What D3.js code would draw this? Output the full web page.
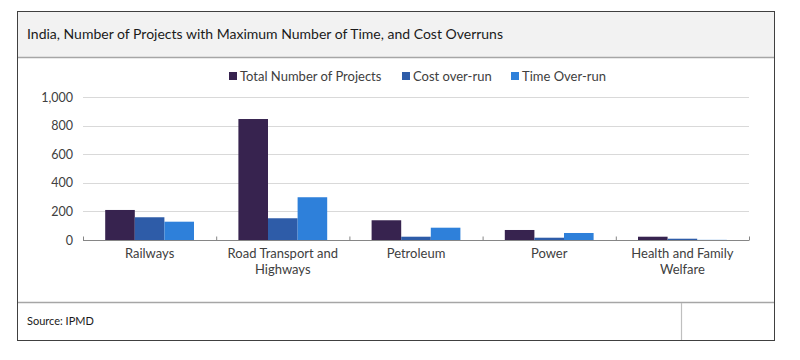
<!DOCTYPE html>
<html><head><meta charset="utf-8">
<script src="https://cdn.jsdelivr.net/npm/d3@7"></script>
<style>
html,body{margin:0;padding:0;background:#fff;}
text{font-family:Lato,"Open Sans",sans-serif;}
</style></head>
<body><svg id="c" width="800" height="360"></svg>
<script>
const title = "India, Number of Projects with Maximum Number of Time, and Cost Overruns";
const source = "Source: IPMD";
const categories = [["Railways"],["Road Transport and","Highways"],["Petroleum"],["Power"],["Health and Family","Welfare"]];
const seriesNames = ["Total Number of Projects","Cost over-run","Time Over-run"];
const totalProjects = [210, 846, 138, 70, 23];
const costOverrun = [159, 152, 23, 16, 9];
const timeOverrun = [128, 299, 86, 49, 1];
const yTicks = [0, 200, 400, 600, 800, 1000];
const colors = ["#37234f", "#2e5ca8", "#2e80da"];

const series = [totalProjects, costOverrun, timeOverrun];
const svg = d3.select("#c");

// frame
svg.append("rect").attr("x",17.5).attr("y",11.5).attr("width",757).attr("height",46).attr("fill","#f2f2f2");
svg.append("line").attr("x1",17.5).attr("x2",774.5).attr("y1",57.5).attr("y2",57.5).attr("stroke","#a6a6a6").attr("stroke-width",1.5);
svg.append("line").attr("x1",17.5).attr("x2",774.5).attr("y1",302.5).attr("y2",302.5).attr("stroke","#a6a6a6").attr("stroke-width",1.5);
svg.append("line").attr("x1",681.5).attr("x2",681.5).attr("y1",303).attr("y2",340).attr("stroke","#bfbfbf").attr("stroke-width",1.2);
svg.append("rect").attr("x",17.5).attr("y",11.5).attr("width",757).attr("height",329).attr("fill","none").attr("stroke","#404040").attr("stroke-width",1);

svg.append("text").attr("x",27).attr("y",39).attr("font-size",14).attr("fill","#1a1a1a").text(title);
svg.append("text").attr("x",27).attr("y",325).attr("font-size",11).attr("fill","#1a1a1a").text(source);

const x0 = d3.scaleBand().domain(d3.range(categories.length)).range([83, 749]).paddingInner(0).paddingOuter(0);
const x1 = d3.scaleBand().domain(d3.range(series.length)).range([0, x0.bandwidth()]).paddingOuter(0.75).paddingInner(0);
const y = d3.scaleLinear().domain([0, 1000]).range([240, 97]);

const g = svg.append("g");
// gridlines
g.selectAll("line.grid").data(yTicks.filter(d=>d>0)).enter().append("line")
  .attr("x1",83).attr("x2",749).attr("y1",d=>Math.round(y(d))+0.5).attr("y2",d=>Math.round(y(d))+0.5)
  .attr("stroke","#d9d9d9").attr("stroke-width",1);

// y labels
const yAxis = d3.axisLeft(y).tickValues(yTicks).tickFormat(d3.format(",")).tickSize(0).tickPadding(10);
const ya = g.append("g").attr("transform","translate(83,0)").call(yAxis);
ya.select(".domain").remove();
ya.selectAll("text").attr("font-size",12.5).attr("fill","#404040").style("font-family","Lato,sans-serif");

// bars
series.forEach((vals, si) => {
  g.selectAll("rect.s"+si).data(vals).enter().append("rect")
    .attr("x",(d,i)=>x0(i)+x1(si))
    .attr("width",x1.bandwidth())
    .attr("y",d=>y(d))
    .attr("height",d=>y(0)-y(d))
    .attr("fill",colors[si]);
});

// x axis
const xAxis = d3.axisBottom(d3.scaleLinear().domain([0,categories.length]).range([83,749]))
  .tickValues(d3.range(categories.length+1)).tickSize(4).tickFormat("");
const xa = g.append("g").attr("transform","translate(0,240.5)").call(xAxis);
xa.select(".domain").attr("stroke","#868686").attr("d","M83,0H749");
xa.selectAll(".tick line").attr("stroke","#868686").attr("y1",-4).attr("y2",0);

categories.forEach((lines, i) => {
  const t = g.append("text").attr("x", x0(i)+x0.bandwidth()/2).attr("y",258)
    .attr("text-anchor","middle").attr("font-size",13).attr("fill","#404040");
  lines.forEach((l, k) => t.append("tspan").attr("x", x0(i)+x0.bandwidth()/2).attr("dy", k===0?0:16).text(l));
});

// legend
const legX = [229, 402, 511];
seriesNames.forEach((n, i) => {
  svg.append("rect").attr("x",legX[i]).attr("y",72).attr("width",8).attr("height",8).attr("fill",colors[i]);
  svg.append("text").attr("x",legX[i]+11).attr("y",80.5).attr("font-size",13).attr("fill","#404040").text(n);
});
</script></body></html>
